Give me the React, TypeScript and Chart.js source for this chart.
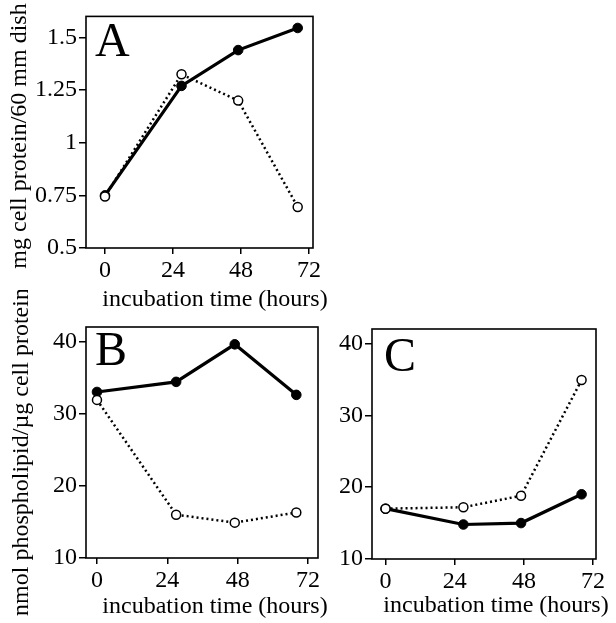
import React, { useEffect, useRef } from "react";
import { Chart, registerables } from "chart.js";

Chart.register(...registerables);

const hours = [0, 27, 47, 68];
const xTicks = [0, 24, 48, 72];

const proteinFilled = [0.75, 1.27, 1.44, 1.545];
const proteinOpen = [0.745, 1.325, 1.2, 0.695];
const proteinTicks = [0.5, 0.75, 1, 1.25, 1.5];

const phosphoBFilled = [33.0, 34.4, 39.6, 32.6];
const phosphoBOpen = [31.9, 16.0, 14.9, 16.3];

const phosphoCFilled = [17.0, 14.8, 15.0, 19.0];
const phosphoCOpen = [17.0, 17.2, 18.8, 34.9];

const phosphoTicks = [10, 20, 30, 40];

const xTitle = "incubation time (hours)";
const yTitleA = "mg cell protein/60 mm dish";
const yTitleB = "nmol phospholipid/\u00b5g cell protein";

const FONT = "'Liberation Serif', 'DejaVu Serif', serif";

const decorPlugin = {
  id: "decor",
  afterDraw(chart: any, _args: any, opts: any) {
    const { ctx, chartArea } = chart;
    ctx.save();
    ctx.strokeStyle = "#000";
    ctx.lineWidth = 1.6;
    ctx.strokeRect(chartArea.left, chartArea.top, chartArea.right - chartArea.left, chartArea.bottom - chartArea.top);
    ctx.fillStyle = "#000";
    if (opts.letter) {
      ctx.font = `48px ${FONT}`;
      ctx.textAlign = "left";
      ctx.textBaseline = "alphabetic";
      ctx.fillText(opts.letter, chartArea.left + opts.letterDx, chartArea.top + opts.letterDy);
    }
    ctx.font = `24px ${FONT}`;
    ctx.textAlign = "center";
    ctx.textBaseline = "middle";
    if (opts.xTitle) {
      ctx.fillText(opts.xTitle.text, opts.xTitle.cx, opts.xTitle.cy);
    }
    if (opts.yTitle) {
      ctx.translate(opts.yTitle.cx, opts.yTitle.cy);
      ctx.rotate(-Math.PI / 2);
      ctx.fillText(opts.yTitle.text, 0, 0);
    }
    ctx.restore();
  },
};

function makeConfig(p: any) {
  const filled = hours.map((h, i) => ({ x: h, y: p.filled[i] }));
  const open = hours.map((h, i) => ({ x: h, y: p.open[i] }));
  return {
    type: "line",
    data: {
      datasets: [
        {
          data: open,
          borderColor: "#000",
          backgroundColor: "#fff",
          borderWidth: 2.5,
          borderDash: [2, 3],
          pointRadius: 4.5,
          pointBackgroundColor: "#fff",
          pointBorderColor: "#000",
          pointBorderWidth: 1.5,
          tension: 0,
        },
        {
          data: filled,
          borderColor: "#000",
          backgroundColor: "#000",
          borderWidth: 3.2,
          pointRadius: 4.8,
          pointBackgroundColor: "#000",
          pointBorderColor: "#000",
          pointBorderWidth: 1,
          tension: 0,
        },
      ],
    },
    options: {
      responsive: false,
      animation: false,
      layout: { padding: { top: p.padTop, right: p.padRight, left: 0, bottom: 0 } },
      plugins: {
        legend: { display: false },
        tooltip: { enabled: false },
        decor: {
          letter: p.letter,
          letterDx: p.letterDx,
          letterDy: p.letterDy,
          xTitle: p.xTitle,
          yTitle: p.yTitle,
        },
      },
      scales: {
        x: {
          type: "linear",
          min: p.xMin,
          max: p.xMax,
          afterFit: (s: any) => {
            s.height = p.xAxisHeight;
          },
          afterBuildTicks: (s: any) => {
            s.ticks = xTicks.map((v) => ({ value: v }));
          },
          grid: { drawOnChartArea: false, drawTicks: true, tickLength: 6, color: "#000", lineWidth: 1.5 },
          border: { display: false },
          ticks: {
            color: "#000",
            font: { family: FONT, size: 24 },
            padding: p.xTickPad,
            maxRotation: 0,
            callback: (v: any) => String(v),
          },
        },
        y: {
          type: "linear",
          min: p.yMin,
          max: p.yMax,
          afterFit: (s: any) => {
            s.width = p.yAxisWidth;
          },
          afterBuildTicks: (s: any) => {
            s.ticks = p.yTicks.map((v: number) => ({ value: v }));
          },
          grid: { drawOnChartArea: false, drawTicks: true, tickLength: 7, color: "#000", lineWidth: 1.5 },
          border: { display: false },
          ticks: {
            color: "#000",
            font: { family: FONT, size: 24 },
            padding: 2,
            callback: (v: any) => String(v),
          },
        },
      },
    },
    plugins: [decorPlugin],
  };
}

function Panel(props: { left: number; top: number; width: number; height: number; cfg: any }) {
  const ref = useRef<HTMLCanvasElement>(null);
  useEffect(() => {
    if (!ref.current) return;
    const chart = new Chart(ref.current, makeConfig(props.cfg) as any);
    return () => chart.destroy();
  }, []);
  return (
    <canvas
      ref={ref}
      width={props.width}
      height={props.height}
      style={{ position: "absolute", left: props.left, top: props.top, width: props.width, height: props.height }}
    />
  );
}

export default function App() {
  const cfgA = {
    filled: proteinFilled,
    open: proteinOpen,
    yTicks: proteinTicks,
    yMin: 0.5,
    yMax: 1.6,
    xMin: -6.7,
    xMax: 73.4,
    padTop: 15,
    padRight: 17,
    xAxisHeight: 72,
    yAxisWidth: 86,
    xTickPad: 2,
    letter: "A",
    letterDx: 9,
    letterDy: 40,
    xTitle: { text: xTitle, cx: 215, cy: 300 },
    yTitle: { text: yTitleA, cx: 20, cy: 136 },
  };
  const cfgB = {
    filled: phosphoBFilled,
    open: phosphoBOpen,
    yTicks: phosphoTicks,
    yMin: 10,
    yMax: 42,
    xMin: -3.75,
    xMax: 75.4,
    padTop: 37,
    padRight: 12,
    xAxisHeight: 65,
    yAxisWidth: 86,
    xTickPad: 2,
    letter: "B",
    letterDx: 9,
    letterDy: 38,
    xTitle: { text: xTitle, cx: 215, cy: 317 },
    yTitle: { text: yTitleB, cx: 22, cy: 162 },
  };
  const cfgC = {
    filled: phosphoCFilled,
    open: phosphoCOpen,
    yTicks: phosphoTicks,
    yMin: 10,
    yMax: 42,
    xMin: -4.7,
    xMax: 73.0,
    padTop: 39,
    padRight: 20,
    xAxisHeight: 64,
    yAxisWidth: 42,
    xTickPad: 2,
    letter: "C",
    letterDx: 12,
    letterDy: 42,
    xTitle: { text: xTitle, cx: 166, cy: 316 },
    yTitle: null,
  };
  return (
    <div style={{ position: "fixed", left: 0, top: 0, width: 616, height: 623, background: "#fff" }}>
      <Panel left={0} top={0} width={330} height={320} cfg={cfgA} />
      <Panel left={0} top={290} width={330} height={333} cfg={cfgB} />
      <Panel left={330} top={290} width={286} height={333} cfg={cfgC} />
    </div>
  );
}
